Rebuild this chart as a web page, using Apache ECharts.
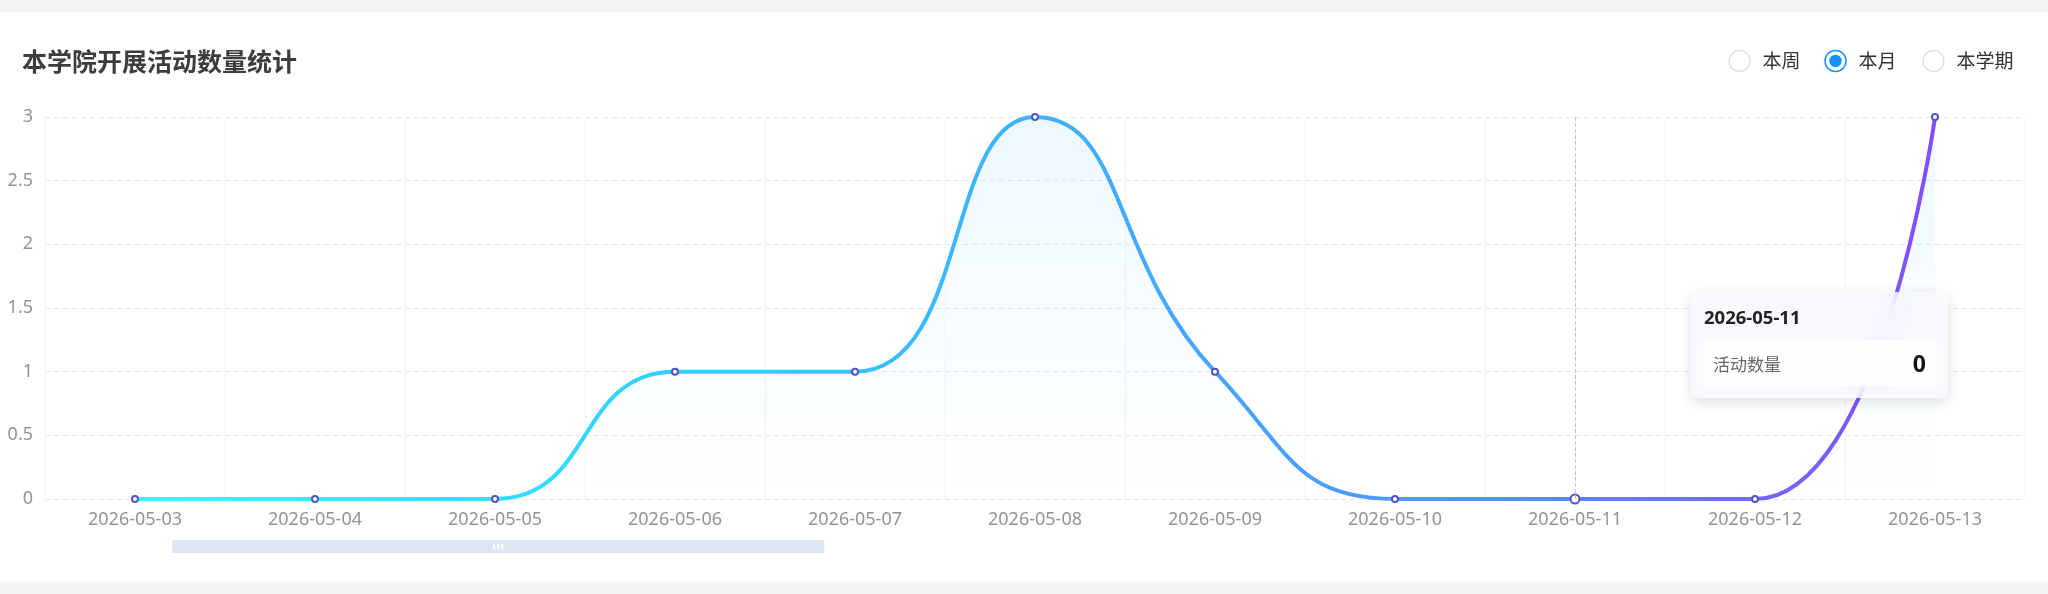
<!DOCTYPE html>
<html>
<head>
<meta charset="utf-8">
<script src="https://cdn.jsdelivr.net/npm/echarts@6/dist/echarts.min.js"></script>
<style>
html,body{margin:0;padding:0;background:#f4f5f7;}
#chart{width:2048px;height:594px;}
</style>
</head>
<body>
<div id="chart"></div>
<script>
var titleText = '本学院开展活动数量统计';
var seriesName = '活动数量';
var categories = ['2026-05-03','2026-05-04','2026-05-05','2026-05-06','2026-05-07','2026-05-08','2026-05-09','2026-05-10','2026-05-11','2026-05-12','2026-05-13'];
var values = [0,0,0,1,1,3,1,0,0,0,3];
var radioLabels = ['本周','本月','本学期'];
var radioChecked = 1;
var activeIndex = 8;

var chart = echarts.init(document.getElementById('chart'), null, {renderer:'canvas'});
var FONT = '"Noto Sans", "Noto Sans CJK SC", sans-serif';
var CJK = '"Noto Sans CJK SC", sans-serif';

var radioX = [1739.5, 1835.5, 1933.5];
var radioG = [];
radioLabels.forEach(function(lbl, i){
  var checked = i === radioChecked;
  radioG.push({
    type:'circle', shape:{cx:radioX[i], cy:61, r:10.5},
    style:{fill:'#fff', stroke: checked ? '#1890ff' : '#d9dce3', lineWidth: checked ? 1.5 : 1.2}
  });
  if (checked) {
    radioG.push({type:'circle', shape:{cx:radioX[i], cy:61, r:6.2}, style:{fill:'#1890ff'}});
  }
  radioG.push({
    type:'text', x: radioX[i] + 23, y: 61,
    style:{text: lbl, fill:'#333', font:'19px ' + CJK, textVerticalAlign:'middle', textAlign:'left'}
  });
});

var option = {
  animation:false,
  backgroundColor:'#f4f5f7',
  graphic: [{type:'rect', z:-10, silent:true, shape:{x:0, y:12, width:2048, height:569}, style:{fill:'#fff'}}].concat(radioG),
  title:{
    text:titleText, left:17, top:44,
    textStyle:{fontSize:25, fontWeight:'bold', color:'#3c3c3c', fontFamily:CJK}
  },
  grid:{left:45, right:23, top:117, bottom:95, containLabel:false},
  tooltip:{
    trigger:'axis',
    alwaysShowContent:true,
    transitionDuration:0,
    position:[1691, 292],
    backgroundColor:'rgba(246,248,253,0.72)',
    borderWidth:0,
    padding:[12,11,12,12],
    extraCssText:'width:257px;box-sizing:border-box;border-radius:6px;box-shadow:0 4px 14px rgba(0,0,0,0.13);backdrop-filter:blur(14px);-webkit-backdrop-filter:blur(14px);',
    axisPointer:{type:'line', lineStyle:{type:'dashed', color:'#c4c4c4', width:1}},
    formatter:function(params){
      var p = params[0];
      return '<div style="font-family:Noto Sans,sans-serif;font-weight:bold;font-size:18.5px;color:#222;line-height:26px;margin:0 0 10px 1px;">' + p.name + '</div>' +
        '<div style="display:flex;justify-content:space-between;align-items:center;background:rgba(255,255,255,0.88);border-radius:5px;height:46px;padding:0 11px 0 10px;">' +
        '<span style="font-family:Noto Sans CJK SC,sans-serif;font-size:17px;color:#666;">' + p.seriesName + '</span>' +
        '<span style="font-family:Noto Sans,sans-serif;font-size:23px;font-weight:bold;color:#111;">' + p.value + '</span></div>';
    }
  },
  dataZoom:[{
    type:'slider', xAxisIndex:0, start:0, end:100,
    left:167, width:652, top:540, height:1,
    backgroundColor:'transparent', borderColor:'transparent', fillerColor:'transparent',
    showDetail:false, showDataShadow:false, brushSelect:true,
    handleSize:0, handleStyle:{opacity:0, borderColor:'transparent'},
    moveHandleSize:13,
    moveHandleStyle:{color:'#D2DBEE', opacity:0.7},
    dataBackground:{lineStyle:{opacity:0}, areaStyle:{opacity:0}},
    selectedDataBackground:{lineStyle:{opacity:0}, areaStyle:{opacity:0}},
    zoomLock:true
  }],
  xAxis:{
    type:'category', data:categories, boundaryGap:true,
    axisLine:{show:false}, axisTick:{show:false},
    axisLabel:{color:'#909399', fontSize:18, fontFamily:FONT, margin:12},
    splitLine:{show:true, lineStyle:{color:'#f2f3f5', width:1}}
  },
  yAxis:{
    type:'value', min:0, max:3, interval:0.5,
    axisLine:{show:false}, axisTick:{show:false},
    axisLabel:{color:'#909399', fontSize:18, fontFamily:FONT, margin:12},
    splitLine:{lineStyle:{type:[5,4], color:'#e3e6ea', width:1}}
  },
  series:[{
    name:seriesName, type:'line', data:values, smooth:true,
    symbol:'circle', symbolSize:6, showSymbol:true,
    itemStyle:{color:'#fff', borderColor:'#5355bb', borderWidth:2},
    lineStyle:{width:4, color:new echarts.graphic.LinearGradient(0,0,1,0,[
      {offset:0, color:'#26e8f7'},
      {offset:0.45, color:'#36a8f3'},
      {offset:0.75, color:'#4b86f0'},
      {offset:1, color:'#7a45ee'}
    ])},
    areaStyle:{color:new echarts.graphic.LinearGradient(0,0,0,1,[
      {offset:0, color:'rgba(150,200,250,0.3)'},
      {offset:1, color:'rgba(190,225,255,0.02)'}
    ])},
    emphasis:{scale:1.5}
  }]
};
chart.setOption(option);
chart.dispatchAction({type:'showTip', seriesIndex:0, dataIndex:activeIndex});
</script>
</body>
</html>
